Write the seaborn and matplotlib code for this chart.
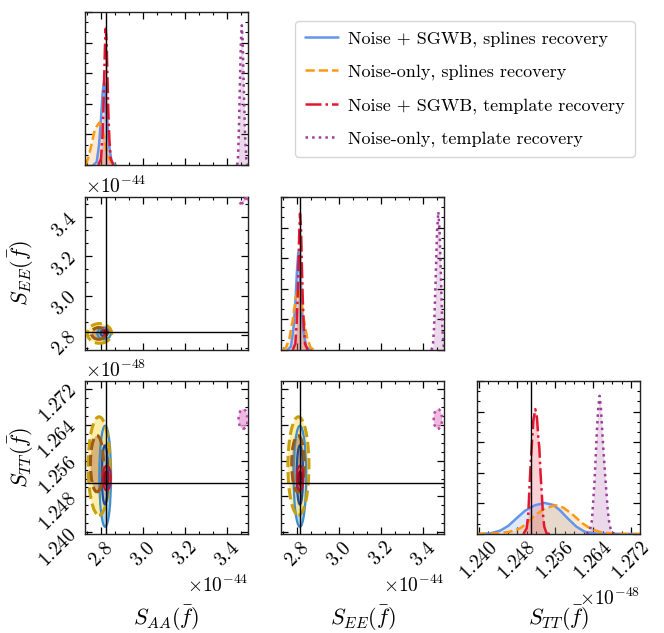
import matplotlib
matplotlib.use("Agg")
import matplotlib.pyplot as plt
import seaborn as sns
from matplotlib.lines import Line2D
from matplotlib.patches import Ellipse
from matplotlib.ticker import MultipleLocator, AutoMinorLocator, ScalarFormatter

E44 = 1e-44
E48 = 1e-48

# ---------------------------
# Series
# ---------------------------
labels = ["Noise + SGWB, splines recovery",
          "Noise-only, splines recovery",
          "Noise + SGWB, template recovery",
          "Noise-only, template recovery"]
line_colors = ["#6495ed", "#ff9914", "#e3172f", "#9b3f96"]
line_styles = ["-", "--", "-.", ":"]

# injected values (S_AA, S_EE in 1e-44, S_TT in 1e-48)
truth_aa = 2.825
truth_ee = 2.816
truth_tt = 1.2510

lim_aa = (2.724, 3.50)
lim_ee = (2.724, 3.50)
lim_tt = (1.2396, 1.2738)

# ---------------------------
# 1D marginals (height as fraction of the panel)
# ---------------------------
aa_blue_x = [2.7637, 2.7796, 2.7907, 2.8002, 2.8081, 2.8145, 2.8208, 2.8287, 2.8383, 2.8510, 2.8700]
aa_blue_y = [0.0, 0.020, 0.129, 0.303, 0.477, 0.542, 0.477, 0.303, 0.129, 0.020, 0.0]
aa_orange_x = [2.724, 2.7319, 2.7430, 2.7557, 2.7716, 2.7922, 2.8065, 2.8192, 2.8319, 2.8478, 2.8748]
aa_orange_y = [0.0, 0.015, 0.063, 0.139, 0.237, 0.277, 0.237, 0.150, 0.063, 0.020, 0.0]
aa_red_x = [2.7875, 2.8002, 2.8065, 2.8113, 2.8160, 2.8192, 2.8224, 2.8272, 2.8303, 2.8351, 2.8399, 2.8462, 2.8589]
aa_red_y = [0.0, 0.041, 0.172, 0.346, 0.608, 0.782, 0.891, 0.804, 0.608, 0.346, 0.172, 0.041, 0.0]
aa_purple_x = [3.448, 3.452, 3.456, 3.461, 3.466, 3.4705, 3.475, 3.480, 3.486, 3.492, 3.498]
aa_purple_y = [0.0, 0.03, 0.20, 0.50, 0.80, 0.913, 0.80, 0.50, 0.20, 0.04, 0.0]

ee_blue_x = [2.7557, 2.7716, 2.7827, 2.7922, 2.8002, 2.8065, 2.8129, 2.8208, 2.8303, 2.8430, 2.8621]
ee_blue_y = [0.0, 0.024, 0.129, 0.303, 0.521, 0.641, 0.521, 0.303, 0.129, 0.024, 0.0]
ee_orange_x = [2.7319, 2.7478, 2.7637, 2.7796, 2.7938, 2.8065, 2.8192, 2.8335, 2.8494, 2.8652, 2.8827]
ee_orange_y = [0.0, 0.015, 0.074, 0.194, 0.336, 0.401, 0.336, 0.194, 0.074, 0.015, 0.0]
ee_red_x = [2.7796, 2.7922, 2.7986, 2.8034, 2.8081, 2.8113, 2.8145, 2.8192, 2.8224, 2.8272, 2.8319, 2.8383, 2.8510]
ee_red_y = [0.0, 0.041, 0.172, 0.346, 0.608, 0.782, 0.891, 0.804, 0.608, 0.346, 0.172, 0.041, 0.0]
ee_purple_x = [3.440, 3.447, 3.453, 3.460, 3.467, 3.473, 3.479, 3.486, 3.492, 3.498, 3.503]
ee_purple_y = [0.0, 0.03, 0.15, 0.45, 0.78, 0.904, 0.78, 0.45, 0.15, 0.03, 0.0]

tt_blue_x = [1.2396, 1.24238, 1.24447, 1.24620, 1.24787, 1.24968, 1.25176, 1.25378, 1.25559, 1.25698, 1.25864, 1.26045, 1.26219, 1.26462, 1.2738]
tt_blue_y = [0.0, 0.004, 0.022, 0.054, 0.102, 0.152, 0.188, 0.203, 0.190, 0.156, 0.102, 0.048, 0.015, 0.002, 0.0]
tt_orange_x = [1.2396, 1.24377, 1.24655, 1.24864, 1.25003, 1.25176, 1.25385, 1.25607, 1.25767, 1.25941, 1.26177, 1.26358, 1.26567, 1.26879, 1.2738]
tt_orange_y = [0.0, 0.004, 0.015, 0.037, 0.069, 0.123, 0.167, 0.188, 0.173, 0.134, 0.069, 0.032, 0.011, 0.0, 0.0]
tt_red_x = [1.24933, 1.25003, 1.25037, 1.25058, 1.25086, 1.25107, 1.25142, 1.25183, 1.25218, 1.25246, 1.25267, 1.25294, 1.25315, 1.25343, 1.25371, 1.25420, 1.25489]
tt_red_y = [0.0, 0.037, 0.134, 0.286, 0.459, 0.567, 0.740, 0.816, 0.762, 0.632, 0.567, 0.394, 0.286, 0.134, 0.048, 0.004, 0.0]
tt_purple_x = [1.26254, 1.26323, 1.26372, 1.26427, 1.26476, 1.26504, 1.26532, 1.26559, 1.26587, 1.26622, 1.26657, 1.26698, 1.26726, 1.26775, 1.26844]
tt_purple_y = [0.0, 0.015, 0.091, 0.351, 0.675, 0.827, 0.903, 0.827, 0.675, 0.502, 0.351, 0.177, 0.091, 0.015, 0.0]

# ---------------------------
# 2D contours: (centre x, centre y, half width, half height, angle), outer level then inner
# ---------------------------
aa_ee_orange = [(2.793, 2.808, 0.058, 0.050, 0), (2.790, 2.808, 0.035, 0.030, 0)]
aa_ee_blue = [(2.815, 2.808, 0.032, 0.030, 0), (2.815, 2.810, 0.017, 0.016, 0)]
aa_ee_red = [(2.822, 2.815, 0.012, 0.012, 0), (2.822, 2.815, 0.006, 0.006, 0)]
aa_ee_purple = [(3.500, 3.500, 0.060, 0.005, 45)]

aa_tt_orange = [(2.791, 1.2548, 0.052, 0.0110, 0), (2.781, 1.2553, 0.031, 0.0063, 0)]
aa_tt_blue = [(2.820, 1.2525, 0.028, 0.0113, 0), (2.819, 1.2528, 0.015, 0.0066, 0)]
aa_tt_red = [(2.828, 1.2521, 0.019, 0.0028, 0), (2.826, 1.2521, 0.010, 0.0015, 0)]
aa_tt_purple = [(3.477, 1.2653, 0.022, 0.0022, 0)]

ee_tt_orange = [(2.807, 1.2548, 0.050, 0.0110, 0), (2.805, 1.2553, 0.030, 0.0063, 0)]
ee_tt_blue = [(2.814, 1.2525, 0.030, 0.0113, 0), (2.814, 1.2528, 0.015, 0.0066, 0)]
ee_tt_red = [(2.815, 1.2521, 0.016, 0.0028, 0), (2.815, 1.2521, 0.008, 0.0015, 0)]
ee_tt_purple = [(3.471, 1.2653, 0.020, 0.0022, 0)]

# fill / edge colours for each contour level of each series
blob_fill = {"blue": ["#a9d2ee", "#7fa7cf"], "orange": ["#ffe98c", "#c99a62"],
             "red": ["#e5677a", "#b8102a"], "purple": ["#eaa6da"]}
blob_edge = {"blue": ["#3f8fcc", "#1d4f9c"], "orange": ["#c9a00c", "#9a5b16"],
             "red": ["#c8102e", "#8c0b20"], "purple": ["#b24aa6"]}
blob_alpha = {"blue": [0.9, 0.55], "orange": [0.75, 0.7], "red": [0.85, 0.9], "purple": [0.8]}
blob_ls = {"blue": "-", "orange": "--", "red": "-", "purple": ":"}
blob_lw = {"blue": 1.6, "orange": 2.2, "red": 1.4, "purple": 1.8}

# ---------------------------
# Style
# ---------------------------
sns.set_style("ticks")
plt.rcParams["font.family"] = "serif"
plt.rcParams["font.serif"] = ["cmr10", "DejaVu Serif"]
plt.rcParams["mathtext.fontset"] = "cm"
plt.rcParams["axes.formatter.use_mathtext"] = True
plt.rcParams["axes.unicode_minus"] = False
plt.rcParams["text.color"] = "black"
plt.rcParams["axes.labelcolor"] = "black"
plt.rcParams["xtick.color"] = "black"
plt.rcParams["ytick.color"] = "black"
plt.rcParams["xtick.direction"] = "in"
plt.rcParams["ytick.direction"] = "in"
plt.rcParams["xtick.top"] = True
plt.rcParams["ytick.right"] = True
plt.rcParams["axes.edgecolor"] = "#222222"
plt.rcParams["axes.linewidth"] = 1.0

fig = plt.figure(figsize=(6.64, 6.33), dpi=100)

lefts = [85 / 664, 281 / 664, 477 / 664]
bottoms = [1 - 165 / 633, 1 - 350 / 633, 1 - 534 / 633]
w = 163 / 664
h = 153 / 633

axes = {}
for r in range(3):
    for c in range(r + 1):
        axes[(r, c)] = fig.add_axes([lefts[c], bottoms[r], w, h])

units = [E44, E44, E48]
lims = [lim_aa, lim_ee, lim_tt]
truths = [truth_aa, truth_ee, truth_tt]
steps = [0.2, 0.2, 0.008]
minors = [3, 3, 4]
names = [r"$S_{AA}(\bar{f})$", r"$S_{EE}(\bar{f})$", r"$S_{TT}(\bar{f})$"]

marginals = [
    [(aa_blue_x, aa_blue_y), (aa_orange_x, aa_orange_y), (aa_red_x, aa_red_y), (aa_purple_x, aa_purple_y)],
    [(ee_blue_x, ee_blue_y), (ee_orange_x, ee_orange_y), (ee_red_x, ee_red_y), (ee_purple_x, ee_purple_y)],
    [(tt_blue_x, tt_blue_y), (tt_orange_x, tt_orange_y), (tt_red_x, tt_red_y), (tt_purple_x, tt_purple_y)],
]
blobs = {
    (1, 0): {"orange": aa_ee_orange, "blue": aa_ee_blue, "red": aa_ee_red, "purple": aa_ee_purple},
    (2, 0): {"orange": aa_tt_orange, "blue": aa_tt_blue, "red": aa_tt_red, "purple": aa_tt_purple},
    (2, 1): {"orange": ee_tt_orange, "blue": ee_tt_blue, "red": ee_tt_red, "purple": ee_tt_purple},
}
# drawing order of the filled levels (series, level)
fill_order = [("blue", 0), ("orange", 0), ("blue", 1), ("orange", 1), ("red", 0), ("red", 1), ("purple", 0)]


def sci_formatter():
    f = ScalarFormatter(useMathText=True, useOffset=False)
    f.set_powerlimits((0, 0))
    return f


def ellipse(level, ux, uy, **kw):
    cx, cy, hx, hy, ang = level
    return Ellipse((cx * ux, cy * uy), 2 * hx * ux, 2 * hy * uy, angle=ang, **kw)


# ---------------------------
# Diagonal: 1D marginals
# ---------------------------
for i in range(3):
    ax = axes[(i, i)]
    u = units[i]
    for (xs, ys), col, ls in zip(marginals[i], line_colors, line_styles):
        xs_u = [v * u for v in xs]
        ax.fill_between(xs_u, ys, color=col, alpha=0.2, lw=0)
        sns.lineplot(x=xs_u, y=ys, ax=ax, color=col, linestyle=ls, lw=1.8, sort=False)
    ax.axvline(truths[i] * u, color="black", lw=1.0)
    ax.set_xlim(lims[i][0] * u, lims[i][1] * u)
    ax.set_ylim(0, 1)
    ax.yaxis.set_major_locator(MultipleLocator(0.2))
    ax.yaxis.set_minor_locator(MultipleLocator(0.2 / 3))

# ---------------------------
# Off-diagonal: 2D contours
# ---------------------------
for (r, c), series in blobs.items():
    ax = axes[(r, c)]
    ux, uy = units[c], units[r]
    z = 2
    for key, k in fill_order:
        if k >= len(series[key]):
            continue
        ax.add_patch(ellipse(series[key][k], ux, uy, facecolor=blob_fill[key][k],
                             edgecolor="none", alpha=blob_alpha[key][k], zorder=z))
        z += 1
    for key, k in fill_order:
        if k >= len(series[key]):
            continue
        ax.add_patch(ellipse(series[key][k], ux, uy, facecolor="none",
                             edgecolor=blob_edge[key][k], ls=blob_ls[key],
                             lw=blob_lw[key], zorder=z))
        z += 1
    ax.axvline(truths[c] * ux, color="black", lw=1.0, zorder=20)
    ax.axhline(truths[r] * uy, color="black", lw=1.0, zorder=20)
    ax.set_xlim(lims[c][0] * ux, lims[c][1] * ux)
    ax.set_ylim(lims[r][0] * uy, lims[r][1] * uy)
    ax.yaxis.set_major_locator(MultipleLocator(steps[r] * uy))
    ax.yaxis.set_minor_locator(AutoMinorLocator(minors[r]))
    ax.yaxis.set_major_formatter(sci_formatter())

# ---------------------------
# Shared axis cosmetics
# ---------------------------
for (r, c), ax in axes.items():
    ux = units[c]
    ax.xaxis.set_major_locator(MultipleLocator(steps[c] * ux))
    ax.xaxis.set_minor_locator(AutoMinorLocator(minors[c]))
    ax.xaxis.set_major_formatter(sci_formatter())
    ax.tick_params(which="major", length=5, width=0.9, labelsize=14)
    ax.tick_params(which="minor", length=2.5, width=0.8)
    ax.yaxis.get_offset_text().set_fontsize(14)
    ax.xaxis.get_offset_text().set_fontsize(14)
    if r < 2:
        ax.tick_params(axis="x", labelbottom=False)
        ax.xaxis.get_offset_text().set_visible(False)
    else:
        for t in ax.get_xticklabels():
            t.set_rotation(45)
        ax.set_xlabel(names[c], fontsize=16)
        ax.xaxis.set_label_coords(0.5, -0.455)
    if c > 0 or r == 0:
        ax.tick_params(axis="y", labelleft=False)
        ax.yaxis.get_offset_text().set_visible(False)
    else:
        for t in ax.get_yticklabels():
            t.set_rotation(45)
        ax.set_ylabel(names[r], fontsize=16)
        ax.yaxis.set_label_coords(-0.3, 0.5)

# ---------------------------
# Legend
# ---------------------------
handles = [Line2D([0], [0], color=col, ls=ls, lw=1.8) for col, ls in zip(line_colors, line_styles)]
fig.legend(handles, labels, loc="upper right", bbox_to_anchor=(635 / 664, 1 - 21 / 633),
           borderaxespad=0, fontsize=13, frameon=True, handlelength=1.8, handletextpad=0.6,
           labelspacing=0.95, borderpad=0.55, edgecolor="#cccccc")

plt.savefig("out.png", dpi=100)
